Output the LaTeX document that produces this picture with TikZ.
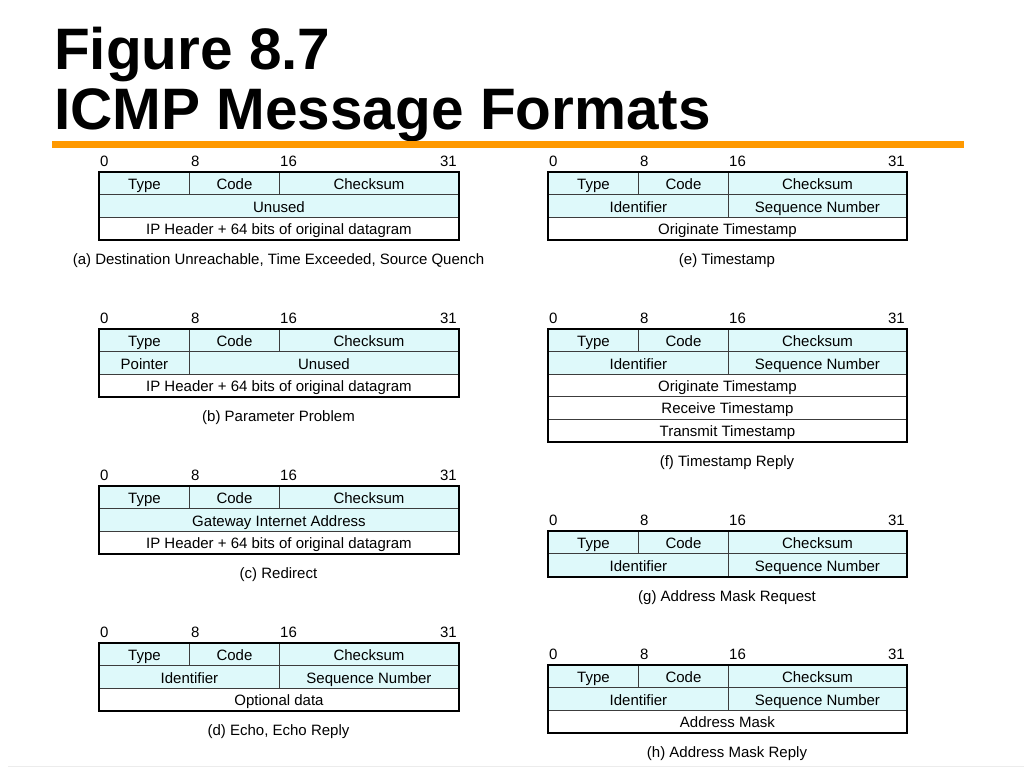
\documentclass[tikz,border=0pt]{standalone}
\usepackage{fontspec}
\setmainfont{Liberation Sans}
\definecolor{cyanfill}{RGB}{222,249,250}
\definecolor{linegray}{RGB}{60,60,60}
\definecolor{orangebar}{RGB}{255,153,0}
\newcommand\bodyfont{\fontsize{15}{18}\selectfont}
\newcommand\titlefont{\fontsize{58.5}{60}\selectfont\bfseries}
% header row with bit ruler: #1 prefix, #2 x0, #3 top, #4 checksum width
\newcommand\hdrrow[4]{%
 \node[bitlbl,anchor=base west] (#1z) at (#2+1,#3-6) {0};
 \node[bitlbl,anchor=base west] (#1e) at (#2+92,#3-6) {8};
 \node[bitlbl,anchor=base west] (#1s) at (#2+181,#3-6) {16};
 \node[bitlbl,anchor=base east] (#1t) at (#2+179+#4,#3-6) {31};
 \node[fc,minimum width=90pt] (#1ty) at (#2,#3) {Type};
 \node[fc,minimum width=90pt] (#1co) at (#2+90,#3) {Code};
 \node[fc,minimum width=#4pt] (#1ck) at (#2+180,#3) {Checksum};
}
\begin{document}
\begin{tikzpicture}[x=1pt,y=-1pt,
 fc/.style={draw=linegray, line width=0.9pt, fill=cyanfill, inner sep=0pt, anchor=north west,
   minimum height=22.4pt, text height=12pt, text depth=0pt, font=\bodyfont},
 fw/.style={fc, fill=white},
 outer/.style={draw=black, line width=2pt},
 bitlbl/.style={font=\bodyfont, inner sep=0pt},
 capt/.style={font=\bodyfont, inner sep=0pt, anchor=base},
 ttl/.style={font=\titlefont, inner sep=0pt, anchor=base west}]
\useasboundingbox (0,0) rectangle (1024,768);
\fill[white] (0,0) rectangle (1024,768);
\draw[gray!15, line width=1pt] (8,766.5) -- (1024,766.5);

% title
\node[ttl] (t1) at (54,69) {Figure 8.7};
\node[ttl] (t2) at (54,129) {ICMP Message Formats};
\fill[orangebar] (52,141) rectangle (964,148);

% (a)
\hdrrow{a}{99}{172}{179}
\node[fc,minimum width=359pt] (aun) at (99,194.4) {Unused};
\node[fw,minimum width=359pt] (aip) at (99,216.8) {IP Header + 64 bits of original datagram};
\draw[outer] (aty.north west) rectangle (aip.south east);
\node[capt] (acap) at (278.5,264.7) {(a) Destination Unreachable, Time Exceeded, Source Quench};

% (b)
\hdrrow{b}{99}{329}{179}
\node[fc,minimum width=90pt] (bpt) at (99,351.4) {Pointer};
\node[fc,minimum width=269pt] (bun) at (189,351.4) {Unused};
\node[fw,minimum width=359pt] (bip) at (99,373.8) {IP Header + 64 bits of original datagram};
\draw[outer] (bty.north west) rectangle (bip.south east);
\node[capt] (bcap) at (278.5,421.7) {(b) Parameter Problem};

% (c)
\hdrrow{c}{99}{486}{179}
\node[fc,minimum width=359pt] (cgw) at (99,508.4) {Gateway Internet Address};
\node[fw,minimum width=359pt] (cip) at (99,530.8) {IP Header + 64 bits of original datagram};
\draw[outer] (cty.north west) rectangle (cip.south east);
\node[capt] (ccap) at (278.5,578.7) {(c) Redirect};

% (d)
\hdrrow{d}{99}{643}{179}
\node[fc,minimum width=180pt] (did) at (99,665.4) {Identifier};
\node[fc,minimum width=179pt] (dsq) at (279,665.4) {Sequence Number};
\node[fw,minimum width=359pt] (dop) at (99,687.8) {Optional data};
\draw[outer] (dty.north west) rectangle (dop.south east);
\node[capt] (dcap) at (278.5,735.7) {(d) Echo, Echo Reply};

% (e)
\hdrrow{e}{548}{172}{178}
\node[fc,minimum width=180pt] (eid) at (548,194.4) {Identifier};
\node[fc,minimum width=178pt] (esq) at (728,194.4) {Sequence Number};
\node[fw,minimum width=358pt] (eor) at (548,216.8) {Originate Timestamp};
\draw[outer] (ety.north west) rectangle (eor.south east);
\node[capt] (ecap) at (727,264.7) {(e) Timestamp};

% (f)
\hdrrow{f}{548}{329}{178}
\node[fc,minimum width=180pt] (fid) at (548,351.4) {Identifier};
\node[fc,minimum width=178pt] (fsq) at (728,351.4) {Sequence Number};
\node[fw,minimum width=358pt] (for) at (548,373.8) {Originate Timestamp};
\node[fw,minimum width=358pt] (frc) at (548,396.2) {Receive Timestamp};
\node[fw,minimum width=358pt] (ftr) at (548,418.6) {Transmit Timestamp};
\draw[outer] (fty.north west) rectangle (ftr.south east);
\node[capt] (fcap) at (727,466.5) {(f) Timestamp Reply};

% (g)
\hdrrow{g}{548}{531}{178}
\node[fc,minimum width=180pt] (gid) at (548,553.4) {Identifier};
\node[fc,minimum width=178pt] (gsq) at (728,553.4) {Sequence Number};
\draw[outer] (gty.north west) rectangle (gsq.south east);
\node[capt] (gcap) at (727,601.3) {(g) Address Mask Request};

% (h)
\hdrrow{h}{548}{665}{178}
\node[fc,minimum width=180pt] (hid) at (548,687.4) {Identifier};
\node[fc,minimum width=178pt] (hsq) at (728,687.4) {Sequence Number};
\node[fw,minimum width=358pt] (ham) at (548,709.8) {Address Mask};
\draw[outer] (hty.north west) rectangle (ham.south east);
\node[capt] (hcap) at (727,757.7) {(h) Address Mask Reply};
\end{tikzpicture}
\end{document}
